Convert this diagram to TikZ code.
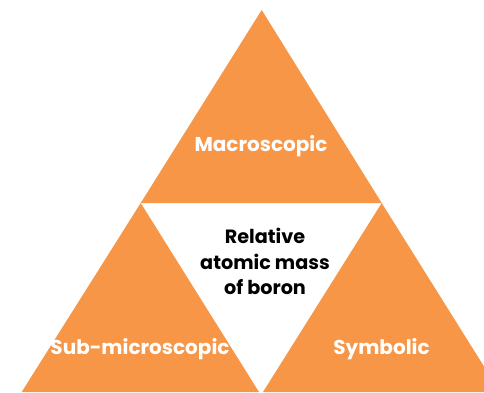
\documentclass[tikz,border=0pt]{standalone}
\usepackage{fontspec}
\setmainfont{Poppins}
\definecolor{tri}{HTML}{F79646}
\begin{document}
\begin{tikzpicture}[x=1pt,y=-1pt,
  lbl/.style={font=\fontsize{20}{25.5}\selectfont\bfseries, text=white, inner sep=0pt, anchor=base},
  ctr/.style={font=\fontsize{19.2}{25.5}\selectfont\bfseries, text=black, inner sep=0pt, align=center, anchor=base}]
\useasboundingbox (0,0) rectangle (484,393);
\begin{scope}
\clip (0,0) rectangle (484,393);
\fill[tri] (261.7,10) -- (140.7,203) -- (381.7,203) -- cycle;
\fill[tri] (140.7,203) -- (21.7,392) -- (259,392) -- cycle;
\fill[tri] (381.7,203) -- (263,392) -- (500,392) -- cycle;
\end{scope}
\node[lbl] (macro) at (261,151.7) {Macroscopic};
\node[lbl] (sub) at (140,354) {Sub-microscopic};
\node[lbl] (sym) at (381.5,354) {Symbolic};
\node[ctr] (rel1) at (265,243.3) {Relative};
\node[ctr] (rel2) at (265,269.3) {atomic mass};
\node[ctr] (rel3) at (265,294) {of boron};
\end{tikzpicture}
\end{document}
